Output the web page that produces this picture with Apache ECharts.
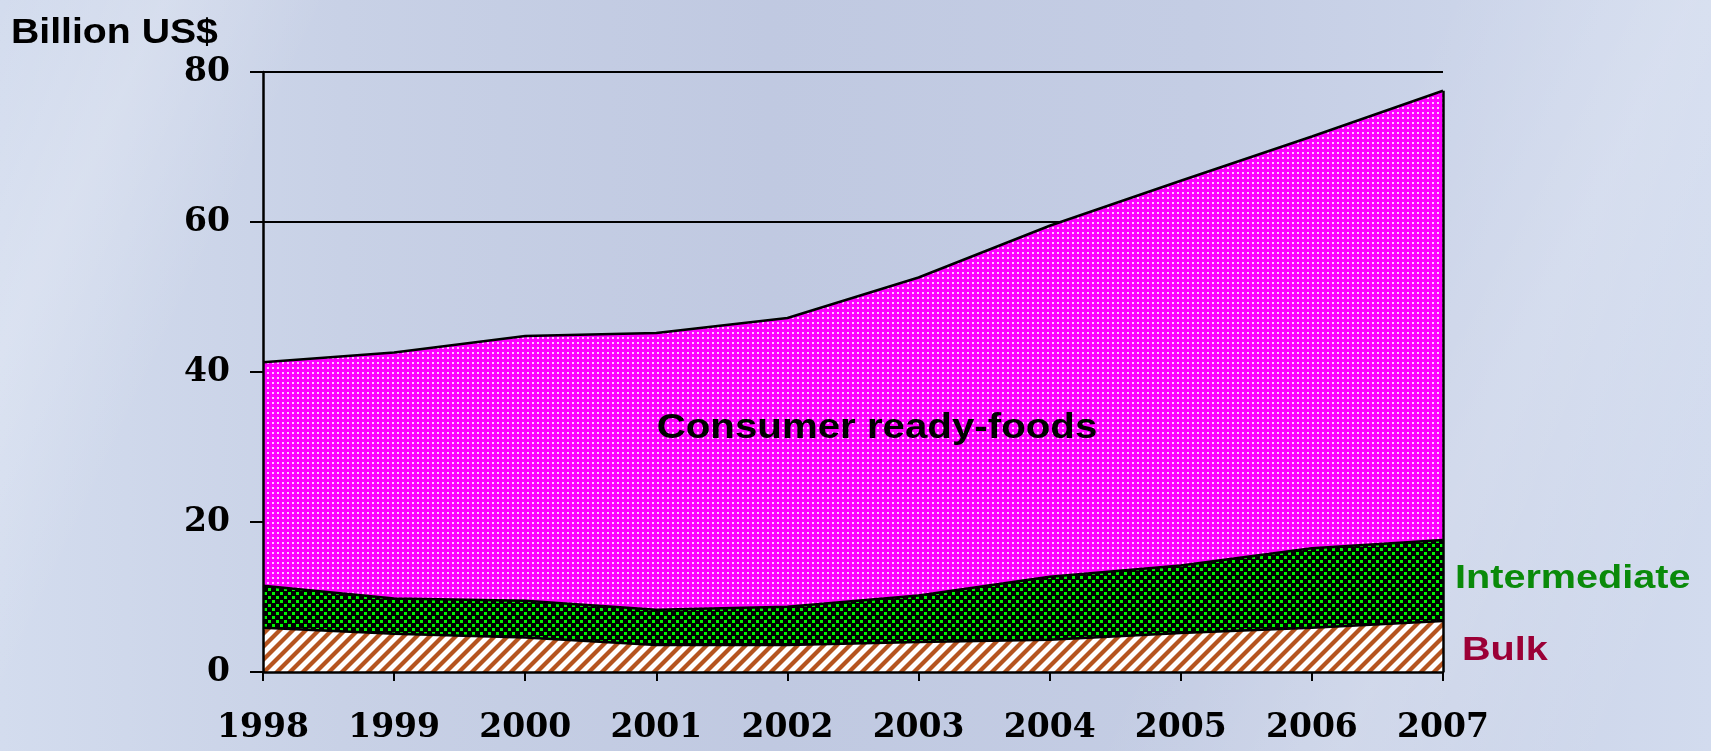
<!DOCTYPE html>
<html>
<head>
<meta charset="utf-8">
<script src="https://cdn.jsdelivr.net/npm/echarts@6/dist/echarts.min.js"></script>
<style>
html,body{margin:0;padding:0;width:1711px;height:751px;overflow:hidden;}
body{
  background:
    linear-gradient(115deg, rgba(255,255,255,0) 0%, rgba(255,255,255,0.18) 8%, rgba(255,255,255,0) 16%, rgba(255,255,255,0) 70%, rgba(255,255,255,0.15) 82%, rgba(255,255,255,0) 95%),
    linear-gradient(90deg, #d3dcee 0%, #c8d1e6 20%, #c0c9e1 45%, #c4cde4 70%, #d2dbee 100%);
}
#chart{width:1711px;height:751px;}
</style>
</head>
<body>
<div id="chart"></div>
<script>
const years = ['1998','1999','2000','2001','2002','2003','2004','2005','2006','2007'];
const bulk = [5.9, 5.1, 4.6, 3.6, 3.6, 4.0, 4.3, 5.2, 5.9, 6.8];
const intermediate = [5.6, 4.7, 4.9, 4.7, 5.1, 6.2, 8.4, 9.0, 10.6, 10.8];
const consumer = [29.8, 32.8, 35.3, 36.9, 38.5, 42.4, 46.8, 51.3, 54.9, 59.9];
const yMin = 0, yMax = 80, yStep = 20;

function tile(w, h, draw) {
  const c = document.createElement('canvas');
  c.width = w; c.height = h;
  draw(c.getContext('2d'), w, h);
  return c;
}
const bulkPattern = tile(13, 13, (g, w, h) => {
  g.fillStyle = '#ffffff'; g.fillRect(0, 0, w, h);
  g.strokeStyle = '#b5541f'; g.lineWidth = 4.2;
  for (let o = -w; o <= w; o += w) {
    g.beginPath(); g.moveTo(o - 2, h + 2); g.lineTo(o + w + 2, -2); g.stroke();
  }
});
const interPattern = tile(8, 8, (g, w, h) => {
  g.fillStyle = '#000000'; g.fillRect(0, 0, w, h);
  g.fillStyle = '#00f400';
  g.fillRect(0, 0, 3, 3);
  g.fillRect(4, 4, 3, 3);
});
const consPattern = tile(5, 5, (g, w, h) => {
  g.fillStyle = '#ff00ff'; g.fillRect(0, 0, w, h);
  g.fillStyle = '#ffc8ff';
  g.fillRect(2, 2, 2, 2);
});

const last = years.length - 1;
const topLast = bulk[last] + intermediate[last] + consumer[last];

const chart = echarts.init(document.getElementById('chart'), null, {renderer: 'canvas'});
const lineStyle = {color: '#000', width: 2.5};
const tickFont = {color: '#000', fontFamily: 'DejaVu Serif', fontWeight: 'bold', fontSize: 33};
chart.setOption({
  backgroundColor: 'transparent',
  animation: false,
  grid: {left: 263, right: 268, top: 72, bottom: 79, containLabel: false},
  xAxis: {
    type: 'category',
    data: years,
    boundaryGap: false,
    axisLine: {show: true, lineStyle: {color: '#000', width: 2.5}},
    axisTick: {show: true, inside: false, length: 9, lineStyle: {color: '#000', width: 2}},
    axisLabel: Object.assign({margin: 40}, tickFont),
    splitLine: {show: false},
    z: 10
  },
  yAxis: [
    {
      type: 'value',
      min: yMin, max: yMax, interval: yStep,
      axisLine: {show: false}, axisTick: {show: false}, axisLabel: {show: false},
      splitLine: {show: true, lineStyle: {color: '#000', width: 2}},
      z: 0
    },
    {
      type: 'value', position: 'left',
      min: yMin, max: yMax, interval: yStep,
      axisLine: {show: true, lineStyle: {color: '#000', width: 2.5}},
      axisTick: {show: true, inside: false, length: 13, lineStyle: {color: '#000', width: 2}},
      axisLabel: Object.assign({margin: 33}, tickFont),
      splitLine: {show: false},
      z: 10
    }
  ],
  series: [
    {
      name: 'Bulk', type: 'line', stack: 'total', data: bulk,
      symbol: 'none', lineStyle: lineStyle, z: 3,
      areaStyle: {color: {image: bulkPattern, repeat: 'repeat'}, opacity: 1}
    },
    {
      name: 'Intermediate', type: 'line', stack: 'total', data: intermediate,
      symbol: 'none', lineStyle: lineStyle, z: 3,
      areaStyle: {color: {image: interPattern, repeat: 'repeat'}, opacity: 1}
    },
    {
      name: 'Consumer ready-foods', type: 'line', stack: 'total', data: consumer,
      symbol: 'none', lineStyle: lineStyle, z: 3,
      areaStyle: {color: {image: consPattern, repeat: 'repeat'}, opacity: 1},
      markLine: {
        silent: true, symbol: 'none', label: {show: false},
        lineStyle: {color: '#000', width: 2.5, type: 'solid'},
        data: [[{coord: [last, 0]}, {coord: [last, topLast]}]]
      }
    }
  ],
  graphic: [
    {type: 'text', x: 11, y: 33, scaleX: 1.12, z: 100,
     style: {text: 'Billion US$', fontFamily: 'Liberation Sans', fontWeight: 'bold', fontSize: 35, fill: '#000', verticalAlign: 'middle', align: 'left'}},
    {type: 'text', x: 877, y: 428, scaleX: 1.15, z: 100,
     style: {text: 'Consumer ready-foods', fontFamily: 'Liberation Sans', fontWeight: 'bold', fontSize: 35, fill: '#000', verticalAlign: 'middle', align: 'center'}},
    {type: 'text', x: 1455, y: 579, scaleX: 1.2, z: 100,
     style: {text: 'Intermediate', fontFamily: 'Liberation Sans', fontWeight: 'bold', fontSize: 33, fill: '#0a8a0a', verticalAlign: 'middle', align: 'left'}},
    {type: 'text', x: 1462, y: 651, scaleX: 1.2, z: 100,
     style: {text: 'Bulk', fontFamily: 'Liberation Sans', fontWeight: 'bold', fontSize: 33, fill: '#9b0036', verticalAlign: 'middle', align: 'left'}}
  ]
});
</script>
</body>
</html>
